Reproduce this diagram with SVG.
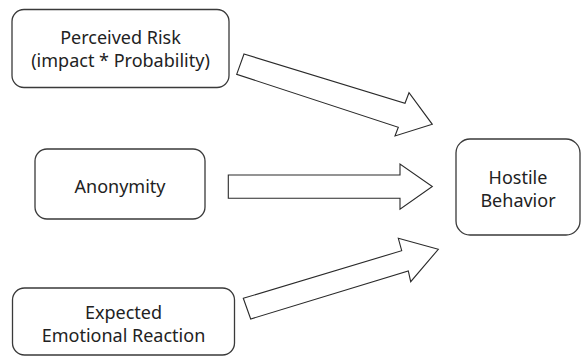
<svg xmlns="http://www.w3.org/2000/svg" width="582" height="357" viewBox="0 0 582 357">
<style>
.box{fill:#fff;stroke:#3a3a3a;stroke-width:1.3}
.arr{fill:#fff;stroke:#2a2a2a;stroke-width:1.1;stroke-linejoin:miter}
text{font-family:"Noto Sans","Open Sans",sans-serif;font-size:18px;fill:#222;text-anchor:middle}
</style>
<rect width="582" height="357" fill="#fff"/>
<g id="connectors">
<polygon class="arr" points="244,54 405,103.3 409,92.7 432.3,124.3 395,136 398.3,127.3 236.7,74.3"/>
<polygon class="arr" points="228.3,175 400,175 400,164 432.3,186.5 400,209.3 400,198.3 228.3,198.3"/>
<polygon class="arr" points="243.3,298.3 401.7,250.7 398.3,238.3 438.3,249.3 410.7,281.7 408.3,271 250.7,319"/>
</g>
<g id="perceived-risk">
<rect class="box" x="12" y="9.5" width="217" height="78" rx="12"/>
<text x="120.5" y="44">Perceived Risk</text>
<text x="120.5" y="66.5">(impact * Probability)</text>
</g>
<g id="anonymity">
<rect class="box" x="35" y="149" width="170" height="70" rx="12"/>
<text x="120" y="193">Anonymity</text>
</g>
<g id="expected-emotional-reaction">
<rect class="box" x="12.5" y="288" width="222" height="67" rx="12"/>
<text x="123.5" y="319">Expected</text>
<text x="123.5" y="341.5">Emotional Reaction</text>
</g>
<g id="hostile-behavior">
<rect class="box" x="456" y="139" width="124" height="96" rx="14"/>
<text x="518" y="184">Hostile</text>
<text x="518" y="206.5">Behavior</text>
</g>
</svg>
